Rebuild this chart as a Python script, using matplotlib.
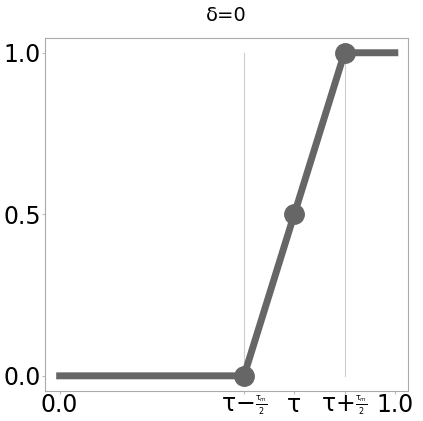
import matplotlib
matplotlib.use("Agg")
import matplotlib.pyplot as plt

# piecewise linear ramp around tau
tau = 0.7
tau_m = 0.3
x_line = [0.0, tau - tau_m / 2, tau + tau_m / 2, 1.0]
y_line = [0.0, 0.0, 1.0, 1.0]
x_pts = [tau - tau_m / 2, tau, tau + tau_m / 2]
y_pts = [0.0, 0.5, 1.0]

xticks = [0.0, tau - tau_m / 2, tau, tau + tau_m / 2, 1.0]
xticklabels = ["0.0", r"τ−$\genfrac{}{}{0.6}{3}{\mathrm{τ}_m}{2}$", "τ",
               r"τ+$\genfrac{}{}{0.6}{3}{\mathrm{τ}_m}{2}$", "1.0"]
yticks = [0.0, 0.5, 1.0]
yticklabels = ["0.0", "0.5", "1.0"]

fig, ax = plt.subplots(figsize=(4.23, 4.21), dpi=100)
fig.subplots_adjust(left=0.107, right=0.965, top=0.91, bottom=0.072)

col = "#666666"
for xv in [tau - tau_m / 2, tau + tau_m / 2]:
    ax.plot([xv, xv], [0, 1], color="#cccccc", lw=0.8, zorder=1)
ax.plot(x_line, y_line, color=col, lw=5, zorder=2)
ax.plot(x_pts, y_pts, "o", color=col, ms=14, zorder=3)

ax.set_xlim(-0.043, 1.04)
ax.set_ylim(-0.046, 1.046)
ax.set_xticks(xticks)
ax.set_xticklabels(xticklabels)
ax.set_yticks(yticks)
ax.set_yticklabels(yticklabels)
ax.tick_params(labelsize=17, length=2, color="#bbbbbb", pad=1)
ax.tick_params(axis="x", pad=0)
for s in ax.spines.values():
    s.set_color("#aaaaaa")
    s.set_linewidth(0.8)
ax.set_title("δ=0", fontsize=14, pad=12)

fig.savefig("out.png", dpi=100)
